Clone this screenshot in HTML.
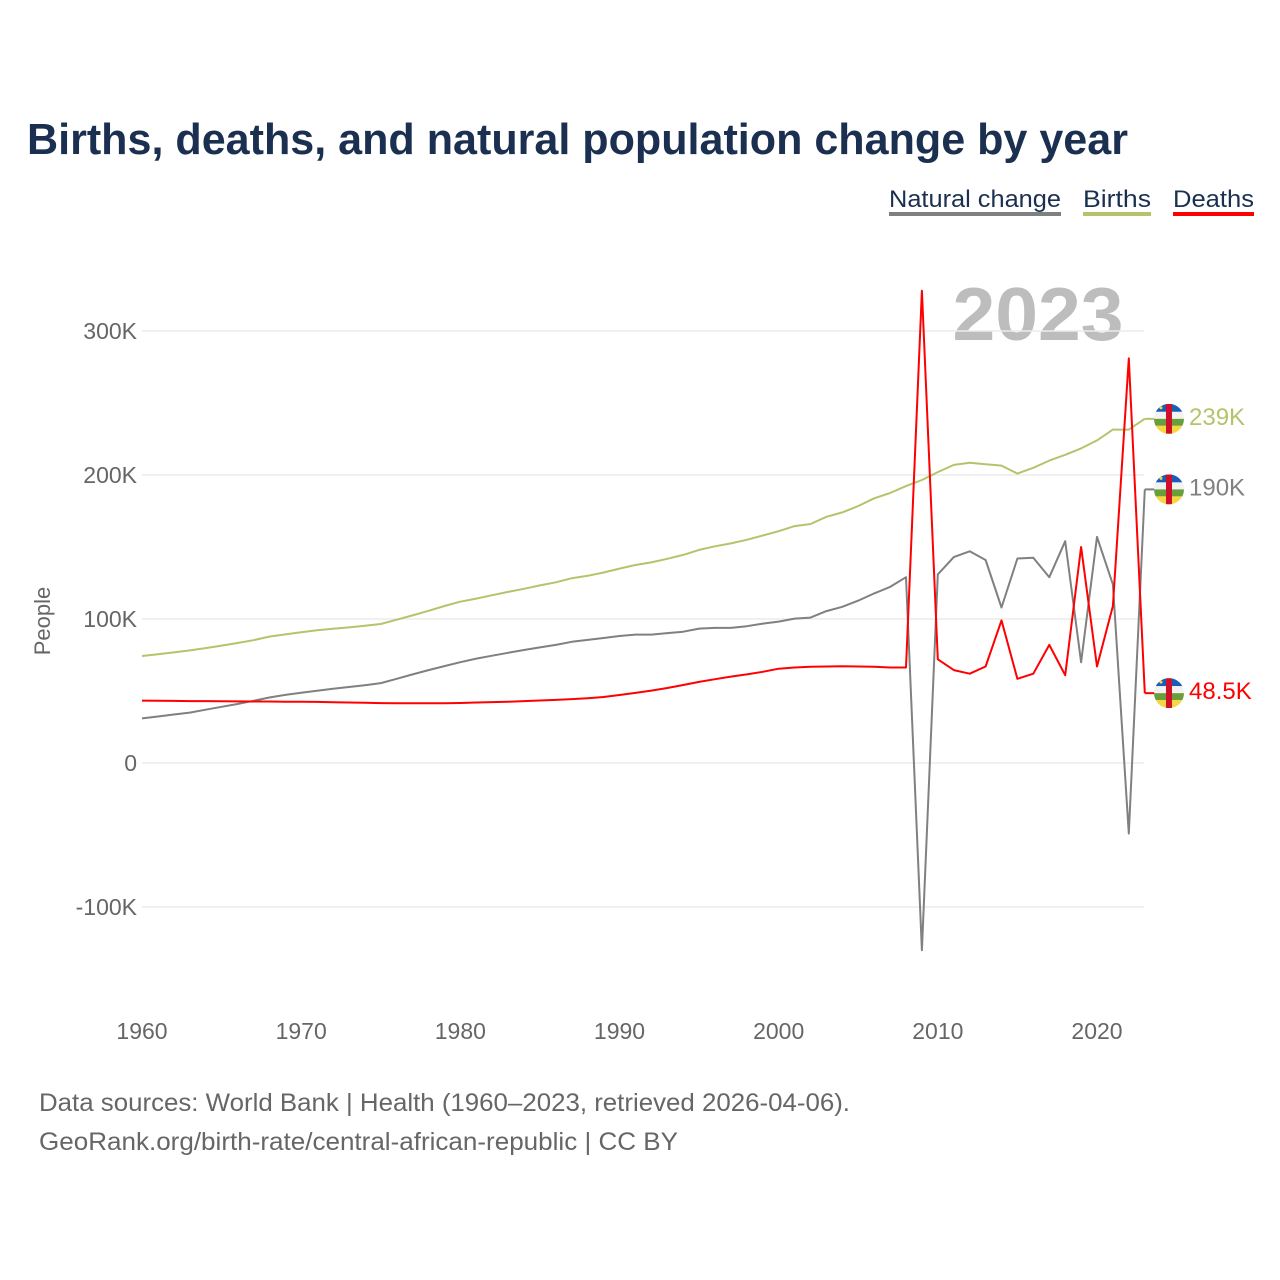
<!DOCTYPE html>
<html><head><meta charset="utf-8"><style>
html,body{margin:0;padding:0;background:#fff;width:1280px;height:1280px;overflow:hidden;font-family:"Liberation Sans",sans-serif}
</style></head><body>
<svg id="chart" width="1280" height="1280" xmlns="http://www.w3.org/2000/svg">
<defs>
<clipPath id="fc"><circle cx="0" cy="0" r="15"/></clipPath>
<g id="flag">
<g clip-path="url(#fc)">
<rect x="-15" y="-15" width="30" height="8" fill="#1a5cb8"/>
<rect x="-15" y="-7" width="30" height="7" fill="#f2f2f2"/>
<rect x="-15" y="0" width="30" height="7" fill="#6a9e3a"/>
<rect x="-15" y="7" width="30" height="8" fill="#f5d742"/>
<rect x="-3" y="-15" width="6" height="30" fill="#d0102a"/>
<circle cx="-8" cy="-11" r="1.5" fill="#f5d742"/>
</g></g>
</defs>
<text x="27" y="154" font-size="44" font-weight="bold" fill="#1b3050" textLength="1101" lengthAdjust="spacingAndGlyphs">Births, deaths, and natural population change by year</text>
<g>
<g><text x="889" y="207" font-size="24" fill="#1b3050" textLength="172" lengthAdjust="spacingAndGlyphs">Natural change</text><rect x="889" y="212" width="172" height="4" fill="#808080"/></g>
<g><text x="1083" y="207" font-size="24" fill="#1b3050" textLength="68" lengthAdjust="spacingAndGlyphs">Births</text><rect x="1083" y="212" width="68" height="4" fill="#b5c36b"/></g>
<g><text x="1173" y="207" font-size="24" fill="#1b3050" textLength="81" lengthAdjust="spacingAndGlyphs">Deaths</text><rect x="1173" y="212" width="81" height="4" fill="#ff0000"/></g>
</g>
<text x="1038" y="340" font-size="75" font-weight="bold" fill="#bdbdbd" text-anchor="middle" textLength="171" lengthAdjust="spacingAndGlyphs">2023</text>
<g id="grid"></g>
<g id="series"></g>
<text transform="translate(50,621) rotate(-90)" font-size="22" fill="#666" text-anchor="middle">People</text>
<text x="39" y="1111" font-size="25" fill="#666" textLength="811" lengthAdjust="spacingAndGlyphs">Data sources: World Bank | Health (1960–2023, retrieved 2026-04-06).</text>
<text x="39" y="1150" font-size="25" fill="#666" textLength="639" lengthAdjust="spacingAndGlyphs">GeoRank.org/birth-rate/central-african-republic | CC BY</text>
</svg>
<script>
const years=[];for(let y=1960;y<=2023;y++)years.push(y);
const births=[74.3,75.5,76.8,78.2,79.8,81.5,83.3,85.3,87.8,89.3,90.8,92.2,93.2,94.2,95.3,96.5,99.5,102.5,105.7,109,112,114.2,116.5,118.8,121,123.3,125.5,128.3,130,132.3,135,137.5,139.3,141.8,144.5,148,150.5,152.5,155,158,161,164.5,166,171,174,178.5,183.8,187.5,192.3,196.5,202,207,208.5,207.5,206.5,201,205,210,214,218.5,224,231.5,231.5,239];
const natural=[31,32.3,33.7,35,37,39,41,43.2,45.5,47.3,48.8,50.2,51.5,52.8,54,55.5,58.5,61.5,64.5,67.3,70,72.5,74.5,76.5,78.5,80.3,82,84.2,85.5,86.8,88.2,89.2,89.2,90.2,91.2,93.3,93.8,93.8,95,96.8,98.2,100.3,101,105.5,108.5,112.8,117.8,122.3,129,-130,131,143,147,141,108,142,142.5,129,154,70,157,124,-49,190];
const deaths=[43.3,43.2,43.1,43,43,42.9,42.8,42.7,42.7,42.6,42.6,42.4,42.2,42,41.8,41.6,41.5,41.5,41.5,41.5,41.7,42,42.3,42.6,43,43.4,43.8,44.4,45,45.8,47.2,48.7,50.3,52.1,54.2,56.3,58.2,60,61.5,63.3,65.5,66.3,66.8,67,67.2,67,66.9,66.3,66.3,328,72,64.5,62,67,99,58.5,62,82,61,150,67,109,281,48.5];
const yTicks=[-100,0,100,200,300];
const yTickLabels=["-100K","0","100K","200K","300K"];
const xTicks=[1960,1970,1980,1990,2000,2010,2020];
const lastLabels=["190K","239K","48.5K"];
const X=y=>142+(y-1960)*(955/60);
const Y=v=>763-v*1.44;
const NS="http://www.w3.org/2000/svg";
const grid=document.getElementById('grid'),ser=document.getElementById('series');
function mk(tag,attrs,parent){const e=document.createElementNS(NS,tag);for(const k in attrs)e.setAttribute(k,attrs[k]);parent.appendChild(e);return e;}
yTicks.forEach((t,i)=>{
 const l=mk('line',{x1:142,x2:1144,y1:Y(t),y2:Y(t),stroke:'#ebebeb','stroke-width':1.5},grid);
 
 
 const tx=mk('text',{x:137,y:Y(t)+8,'font-size':23,fill:'#666','text-anchor':'end'},grid);
 tx.textContent=yTickLabels[i];
 
 
});
xTicks.forEach(t=>{
 const tx=mk('text',{x:X(t),y:1039,'font-size':23,fill:'#666','text-anchor':'middle'},grid);
 tx.textContent=t;
 
 
});
const S=[[natural,'#808080','natural-change'],[births,'#b5c36b','births'],[deaths,'#ff0000','deaths']];
S.forEach(([d,c,n],i)=>{
 const pts=d.map((v,j)=>X(years[j]).toFixed(1)+','+Y(v).toFixed(1)).join(' ');
 const p=mk('polyline',{points:pts,fill:'none',stroke:c,'stroke-width':2,'stroke-linejoin':'round'},ser);
 
 
});
const ends=[[natural[natural.length-1],'#808080'],[births[births.length-1],'#b5c36b'],[deaths[deaths.length-1],'#ff0000']];
ends.forEach(([v,c],i)=>{
 const yy=Y(v),x0=X(2023);
 mk('line',{x1:x0,x2:1155,y1:yy,y2:yy,stroke:c,'stroke-width':2},ser);
 const f=mk('use',{href:'#flag',x:1169,y:yy},ser);
 
 
 const t=mk('text',{x:1189,y:yy+6,'font-size':24,fill:c},ser);
 t.textContent=lastLabels[i];
 
 
});
</script>
</body></html>
